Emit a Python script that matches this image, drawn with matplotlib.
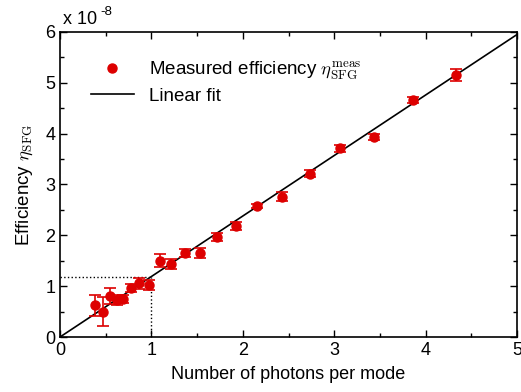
import matplotlib
matplotlib.use('Agg')
import matplotlib.pyplot as plt
from matplotlib.ticker import MultipleLocator
from matplotlib.lines import Line2D

plt.rcParams['font.family'] = ['Liberation Sans', 'DejaVu Sans']
plt.rcParams['mathtext.fontset'] = 'cm'

# data (efficiency in units of 1e-8)
photons = [0.38, 0.47, 0.55, 0.62, 0.69, 0.78, 0.86, 0.97, 1.09, 1.21, 1.37,
           1.53, 1.72, 1.93, 2.16, 2.43, 2.73, 3.06, 3.44, 3.86, 4.33]
eff = [0.62, 0.50, 0.81, 0.73, 0.74, 0.97, 1.06, 1.02, 1.50, 1.44, 1.66,
       1.65, 1.97, 2.18, 2.57, 2.76, 3.21, 3.71, 3.94, 4.67, 5.16]
eff_err = [0.20, 0.29, 0.16, 0.10, 0.08, 0.08, 0.11, 0.10, 0.13, 0.10, 0.08,
           0.10, 0.08, 0.08, 0.04, 0.09, 0.07, 0.07, 0.06, 0.06, 0.12]

slope = 1.19
fit_x = [0, 5]
marker_x = 1.0

fig = plt.figure(figsize=(5.21, 3.92), dpi=100)
ax = fig.add_axes([0.1152, 0.1403, 0.8771, 0.7781])

red = '#dd0000'
fit_y = [slope * v for v in fit_x]
ax.plot(fit_x, fit_y, color='black', lw=1.2, zorder=2)
ax.errorbar(photons, eff, yerr=eff_err, fmt='o', color=red, ms=6.5,
            capsize=4.5, elinewidth=1.2, capthick=1.2, zorder=3)

# dotted guide lines at 1 photon per mode
ax.plot([0, marker_x], [slope * marker_x] * 2, color='black', ls=':', lw=1)
ax.plot([marker_x] * 2, [0, slope * marker_x], color='black', ls=':', lw=1)

ax.set_xlim(0, 5)
ax.set_ylim(0, 6)
ax.xaxis.set_major_locator(MultipleLocator(1))
ax.xaxis.set_minor_locator(MultipleLocator(0.5))
ax.yaxis.set_major_locator(MultipleLocator(1))
ax.yaxis.set_minor_locator(MultipleLocator(0.5))
ax.tick_params(which='both', direction='in', top=True, right=True,
               labelsize=13, width=1)
ax.tick_params(which='major', length=5)
ax.tick_params(which='minor', length=3)
for s in ax.spines.values():
    s.set_linewidth(1.2)

ax.set_xlabel('Number of photons per mode', fontsize=13, labelpad=5)
ax.set_ylabel(r'Efficiency $\eta_{\rm SFG}$', fontsize=13.5, labelpad=7)

# scale factor label
fig.text(63 / 521, 1 - 24 / 392, 'x 10', fontsize=13, ha='left', va='baseline')
fig.text(100 / 521, 1 - 15 / 392, '-8', fontsize=9.5, ha='left', va='baseline')

handles = [Line2D([], [], ls='none', marker='o', color=red, ms=6.5),
           Line2D([], [], color='black', lw=1.2)]
labels = [r'Measured efficiency $\eta_{\rm SFG}^{\rm meas}$', 'Linear fit']
ax.legend(handles, labels, loc='upper left', bbox_to_anchor=(0.03, 0.965),
          frameon=False, fontsize=13.5, handlelength=2.3, handletextpad=0.8,
          labelspacing=0.3)

fig.savefig('out.png', dpi=100)
